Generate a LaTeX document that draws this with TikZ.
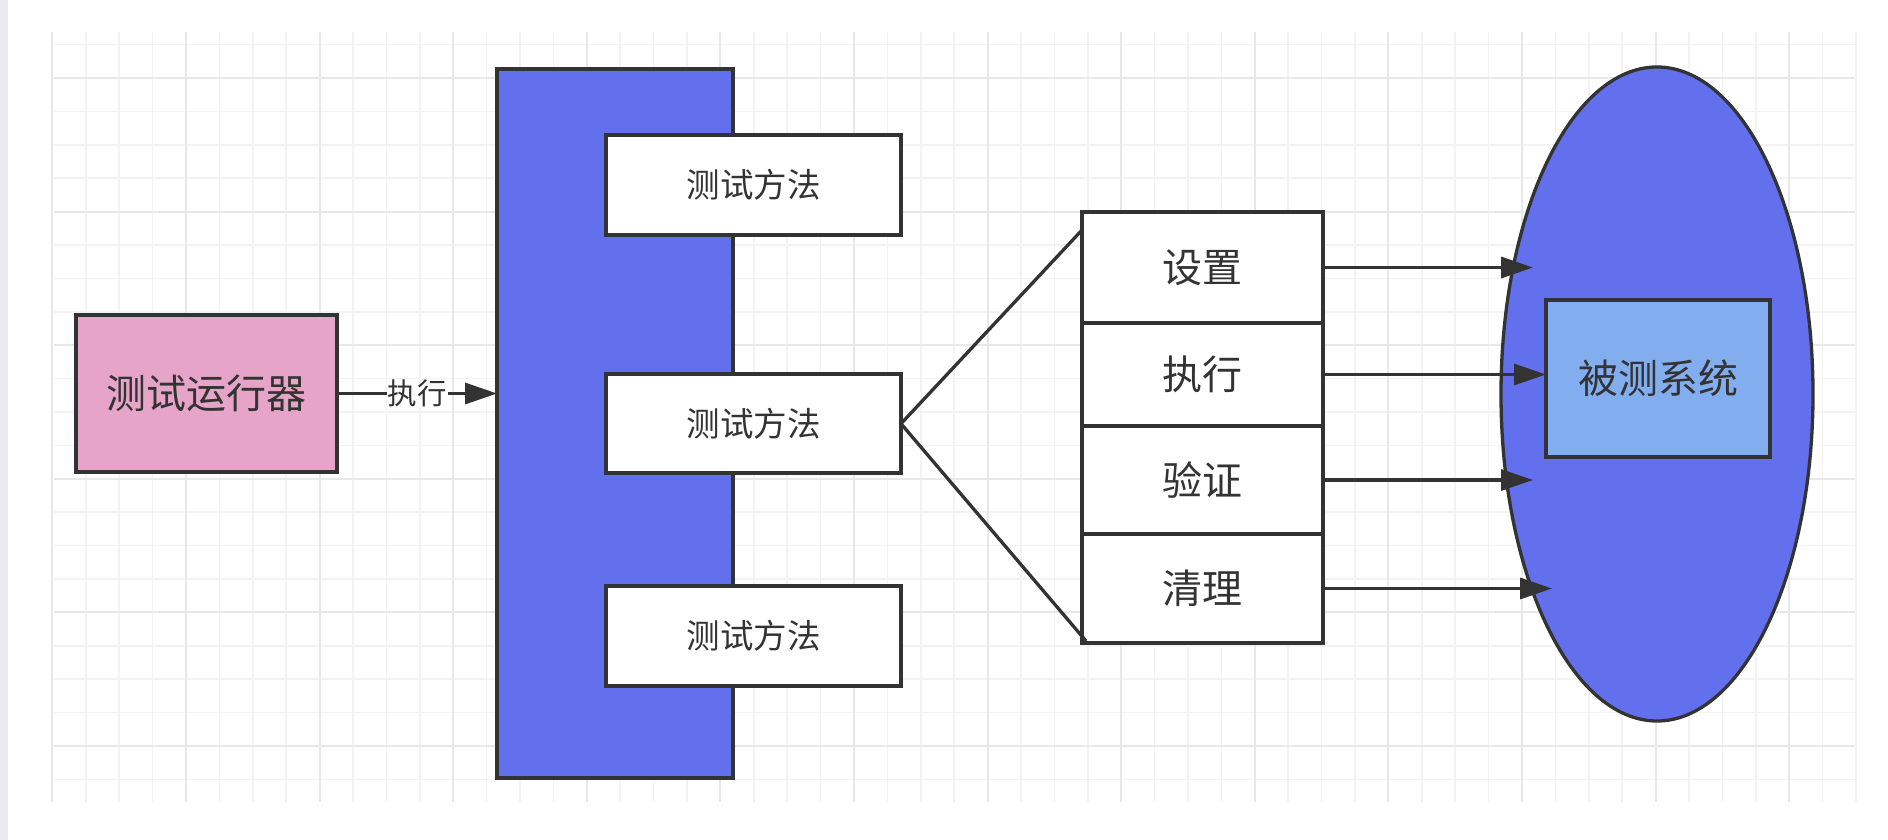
\documentclass[tikz,border=0pt]{standalone}
\usepackage{fontspec}
\setmainfont{Noto Sans CJK SC}
\usetikzlibrary{arrows.meta,shapes.geometric,calc}
\definecolor{stroke}{HTML}{333333}
\definecolor{txt}{HTML}{333333}
\definecolor{pinkfill}{HTML}{E6A4C8}
\definecolor{bluefill}{HTML}{6370EE}
\definecolor{lightblue}{HTML}{82AEF0}
\definecolor{gridminor}{HTML}{F3F3F3}
\definecolor{gridmajor}{HTML}{E8E8E8}
\definecolor{stripcol}{HTML}{ECEAF1}
\begin{document}
\begin{tikzpicture}[x=1pt,y=-1pt,
  box/.style={draw=stroke, line width=3.8pt, text=txt, inner sep=0pt, outer sep=0pt},
  conn/.style={draw=stroke, line width=3.3pt},
  arr/.style={conn, -{Triangle[length=32pt,width=21pt]}},
  fbig/.style={font=\fontsize{40pt}{48pt}\selectfont},
  fmid/.style={font=\fontsize{33.5pt}{40pt}\selectfont},
  fsmall/.style={font=\fontsize{29.5pt}{36pt}\selectfont},
  gmin/.style={draw=gridminor, line width=1.5pt},
  gmaj/.style={draw=gridmajor, line width=2pt}]
\useasboundingbox (0,0) rectangle (1888,840);
\fill[white] (0,0) rectangle (1888,840);
\fill[stripcol] (0,0) rectangle (8,840);
% grid
\foreach \i in {-4,...,50}{
  \pgfmathsetmacro\gx{186+33.4*\i}
  \draw[gmin] (\gx,32) -- (\gx,802);
}
\foreach \j in {-1,...,21}{
  \pgfmathsetmacro\gy{78+33.4*\j}
  \draw[gmin] (54,\gy) -- (1855,\gy);
}
\foreach \i in {-4,0,...,48}{
  \pgfmathsetmacro\gx{186+33.4*\i}
  \draw[gmaj] (\gx,32) -- (\gx,802);
}
\foreach \j in {0,4,...,20}{
  \pgfmathsetmacro\gy{78+33.4*\j}
  \draw[gmaj] (54,\gy) -- (1855,\gy);
}
% test class
\node[box, fill=bluefill, minimum width=236pt, minimum height=709pt] (cls) at (615,423.5) {};
\node[box, fill=white, fmid, minimum width=295pt, minimum height=100pt] (m1) at (753.5,185) {测试方法};
\node[box, fill=white, fmid, minimum width=295pt, minimum height=99pt] (m2) at (753.5,423.7) {测试方法};
\node[box, fill=white, fmid, minimum width=295pt, minimum height=100pt] (m3) at (753.5,636) {测试方法};
% runner
\node[box, fill=pinkfill, fbig, minimum width=261pt, minimum height=157pt] (run) at (206.5,393.5) {测试运行器};
\draw[arr] (run.east) -- node[fill=white, text=txt, fsmall, inner sep=1pt] (lbl) {执行} (run.east -| cls.west);
% phases
\node[box, fill=white, fbig, minimum width=241pt, minimum height=111pt] (s1) at (1202.5,267.5) {设置};
\node[box, fill=white, fbig, minimum width=241pt, minimum height=103pt] (s2) at (1202.5,374.5) {执行};
\node[box, fill=white, fbig, minimum width=241pt, minimum height=108pt] (s3) at (1202.5,480) {验证};
\node[box, fill=white, fbig, minimum width=241pt, minimum height=109pt] (s4) at (1202.5,588.5) {清理};
\coordinate (ft) at (1082,230);
\coordinate (fb) at (1086,641);
\draw[conn] (ft) -- (m2.east) -- (fb);
% system under test
\node[ellipse, draw=stroke, line width=3.3pt, fill=bluefill, minimum width=312pt, minimum height=654pt, inner sep=0pt] (env) at (1657,394) {};
\node[box, fill=lightblue, fbig, minimum width=224pt, minimum height=157pt] (sut) at (1658,378.5) {被测系统};
\coordinate (t1) at (1533,267.5);
\coordinate (t3) at (1533,480);
\coordinate (t4) at (1552,588.5);
\draw[arr] (s1.east) -- (t1);
\draw[arr] (s2.east) -- (s2.east -| sut.west);
\draw[arr] (s3.east) -- (t3);
\draw[arr] (s4.east) -- (t4);
\end{tikzpicture}
\end{document}
